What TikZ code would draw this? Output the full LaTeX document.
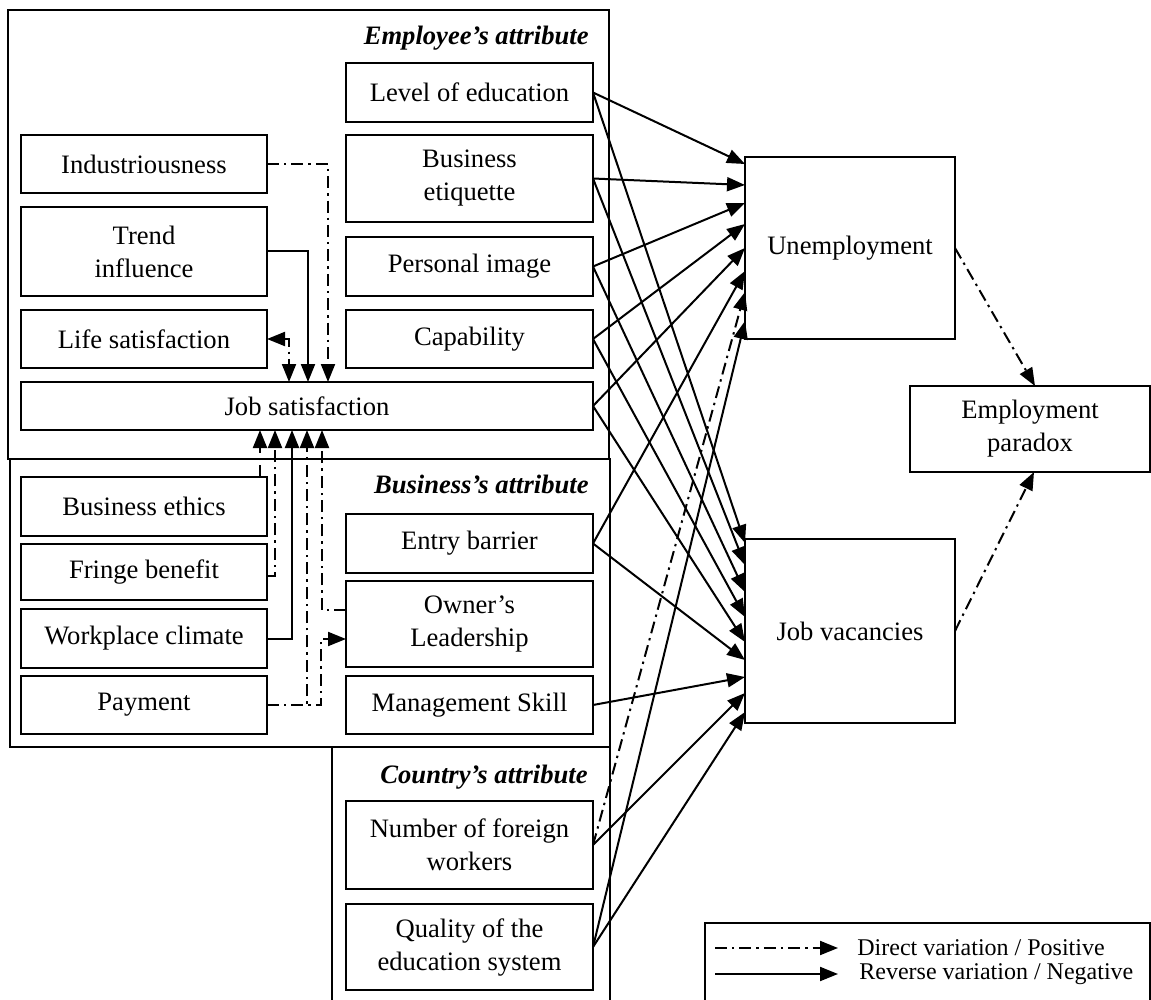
\documentclass[tikz,border=0pt]{standalone}
\usepackage{fontspec}
\setmainfont{Liberation Serif}
\usetikzlibrary{arrows.meta,calc}
\begin{document}
\begin{tikzpicture}[x=0.5pt,y=-0.5pt,
  every node/.style={font=\fontsize{13.3}{16.5}\selectfont},
  box/.style={draw, line width=1pt, align=center, inner sep=0pt, outer sep=0pt},
  lbox/.style={box, minimum width=123pt},
  rbox/.style={box, minimum width=123.5pt},
  con/.style={line width=1pt, -{Triangle[length=9pt,width=7pt]}},
  conboth/.style={line width=1pt, {Triangle[length=9pt,width=7pt]}-{Triangle[length=9pt,width=7pt]}},
  dd/.style={dash pattern=on 6pt off 2.5pt on 1.2pt off 2.5pt},
  frame/.style={draw, line width=1pt},
  lab/.style={font=\fontsize{13.3}{16}\selectfont\bfseries\itshape, anchor=base east, inner sep=0pt},
  leg/.style={font=\fontsize{12}{14}\selectfont, anchor=west, inner sep=0pt}
]
\useasboundingbox (0,0) rectangle (1151,1000);
\clip (0,0) rectangle (1151,1000);

% frames
\draw[frame] (8,10) rectangle (609,459);
\draw[frame] (10,459) rectangle (610,747);
\draw[frame] (332,747) rectangle (610,1010);
\draw[frame] (705,923) rectangle (1150,1010);

\node[lab] (lemp) at (589,45) {Employee’s attribute};
\node[lab] (lbus) at (589,493) {Business’s attribute};
\node[lab] (lcty) at (588,783) {Country’s attribute};

% employee
\node[rbox, minimum height=29.5pt] (lev) at (469.5,92.5) {Level of education};
\node[lbox, minimum height=29pt] (ind) at (144,164) {Industriousness};
\node[rbox, minimum height=43.5pt] (bet) at (469.5,178.5) {Business\\etiquette};
\node[lbox, minimum height=44.5pt] (trend) at (144,251.5) {Trend\\influence};
\node[rbox, minimum height=29.5pt] (pim) at (469.5,266.5) {Personal image};
\node[lbox, minimum height=29pt] (life) at (144,339) {Life satisfaction};
\node[rbox, minimum height=29pt] (cap) at (469.5,339) {Capability};
\node[box, minimum width=286pt, minimum height=24pt] (job) at (307,406) {Job satisfaction};

% business
\node[lbox, minimum height=29.5pt] (eth) at (144,506.5) {Business ethics};
\node[lbox, minimum height=28pt] (fringe) at (144,572) {Fringe benefit};
\node[lbox, minimum height=29.5pt] (work) at (144,638.5) {Workplace climate};
\node[lbox, minimum height=29pt] (pay) at (144,705) {Payment};
\node[rbox, minimum height=29.5pt] (entry) at (469.5,543.5) {Entry barrier};
\node[rbox, minimum height=43pt] (owner) at (469.5,624) {Owner’s\\Leadership};
\node[rbox, minimum height=29pt] (mgmt) at (469.5,705) {Management Skill};

% country
\node[rbox, minimum height=44pt] (foreign) at (469.5,845) {Number of foreign\\workers};
\node[rbox, minimum height=43pt] (quality) at (469.5,947) {Quality of the\\education system};

% outcomes
\node[box, minimum width=105pt, minimum height=91pt] (unemp) at (850,248) {Unemployment};
\node[box, minimum width=105pt, minimum height=92pt] (jobvac) at (850,631) {Job vacancies};
\node[box, minimum width=120pt, minimum height=43pt] (para) at (1030,429) {Employment\\paradox};

% connectors to outcomes
\foreach \s/\u/\j in {lev/42pt/44pt, bet/31.5pt/33pt, pim/22.5pt/19.5pt, cap/12pt/7pt, job/0pt/-5.5pt, entry/-11.5pt/-14.5pt} {
  \draw[con] (\s.east) -- ([yshift=\u]unemp.west);
  \draw[con] (\s.east) -- ([yshift=\j]jobvac.west);
}
\draw[con] (mgmt.east) -- ([yshift=-23pt]jobvac.west);
\draw[con,dd] (foreign.east) -- ([yshift=-22pt]unemp.west);
\draw[con] (foreign.east) -- ([yshift=-31pt]jobvac.west);
\draw[con] (quality.east) -- ([yshift=-36.5pt]unemp.west);
\draw[con] (quality.east) -- ([yshift=-40.5pt]jobvac.west);

\draw[con,dd] (unemp.east) -- ([xshift=2.5pt]para.north);
\draw[con,dd] (jobvac.east) -- ([xshift=2pt]para.south);

% internal employee
\draw[con,dd] (ind.east) -| ([xshift=153.5pt]job.north west);
\draw[con] (trend.east) -| ([xshift=143.5pt]job.north west);
\draw[conboth,dd] (life.east) -| ([xshift=134pt]job.north west);

% internal business
\coordinate (b1) at ([xshift=-3.5pt]eth.north east);
\draw[con,dd] (b1) -- (b1 |- job.south);
\draw[con,dd] ([yshift=-2pt]fringe.east) -| ([xshift=127pt]job.south west);
\draw[con] (work.east) -| ([xshift=135.5pt]job.south west);
\draw[con,dd] (pay.east) -| ([xshift=143pt]job.south west);
\draw[con,dd] ([yshift=7pt]owner.west) -| ([xshift=150.5pt]job.south west);
\coordinate (c1) at ([xshift=-12.5pt,yshift=-7.5pt]owner.west);
\draw[con,dd] (pay.east) -| (c1) -- ([yshift=-7.5pt]owner.west);

% legend
\coordinate (la1) at (715,948);
\coordinate (la2) at (838,948);
\coordinate (lb1) at (715,974);
\coordinate (lb2) at (838,974);
\draw[con,dd] (la1) -- (la2);
\draw[con] (lb1) -- (lb2);
\node[leg] (lt1) at (857,948) {Direct variation / Positive};
\node[leg] (lt2) at (859,974) {Reverse variation / Negative};
\end{tikzpicture}
\end{document}
